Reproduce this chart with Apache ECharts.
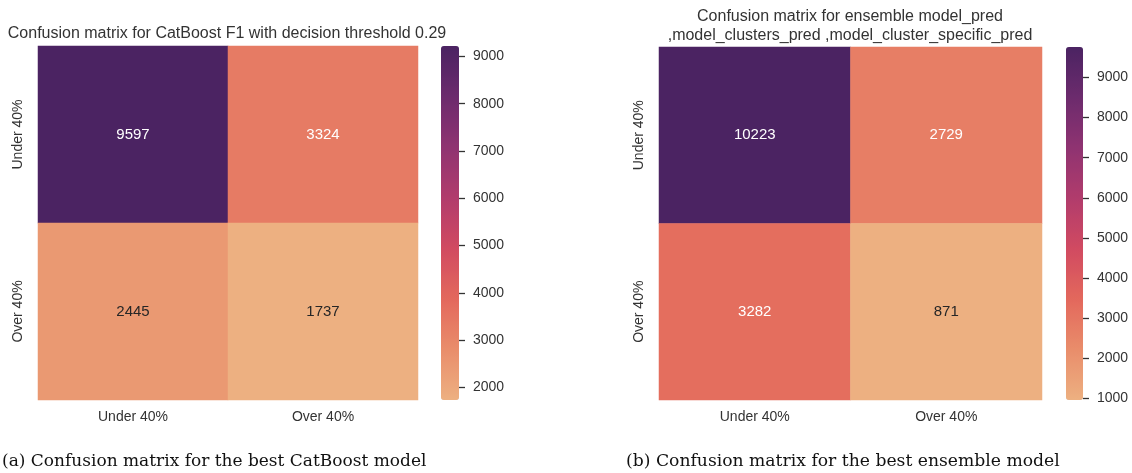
<!DOCTYPE html>
<html>
<head>
<meta charset="utf-8">
<script src="https://cdn.jsdelivr.net/npm/echarts@6/dist/echarts.min.js"></script>
<style>
html,body{margin:0;padding:0;background:#fff;}
#chart{width:1132px;height:473px;}
</style>
</head>
<body>
<div id="chart"></div>
<script>
// ---- data ----
const xLabels = ['Under 40%', 'Over 40%'];
const yLabels = ['Under 40%', 'Over 40%'];
// rows = true class (yLabels), cols = predicted (xLabels)
const catboostMatrix = [[9597, 3324], [2445, 1737]];
const ensembleMatrix = [[10223, 2729], [3282, 871]];
// colour scale ranges as shown on the colour bars
const catboostRange = [1737, 9220];
const ensembleRange = [960, 9760];
const catboostTicks = [2000, 3000, 4000, 5000, 6000, 7000, 8000, 9000];
const ensembleTicks = [1000, 2000, 3000, 4000, 5000, 6000, 7000, 8000, 9000];
const titleA = 'Confusion matrix for CatBoost F1 with decision threshold 0.29';
const titleB = 'Confusion matrix for ensemble model_pred\n,model_clusters_pred ,model_cluster_specific_pred';
const captionA = '(a) Confusion matrix for the best CatBoost model';
const captionB = '(b) Confusion matrix for the best ensemble model';

// seaborn "flare" colormap (low -> high)
const flare = ['#EDB081', '#E98D6B', '#E3685C', '#D14A61', '#B13C6C', '#8F3371', '#6C2B6D', '#4B2362'];

const FONT = 'Liberation Sans, Arial, sans-serif';
const TXT = '#333333';

function buildData(matrix, range) {
  const out = [];
  matrix.forEach((row, yi) => row.forEach((v, xi) => {
    const c = Math.min(Math.max(v, range[0]), range[1]);
    const t = (c - range[0]) / (range[1] - range[0]);
    out.push({ value: [xi, yi, c, v], label: { color: t > 0.15 ? '#ffffff' : '#262626' } });
  }));
  return out;
}

const chart = echarts.init(document.getElementById('chart'), null, { renderer: 'canvas' });

const grids = [
  { left: 38, top: 46, width: 380, height: 354 },
  { left: 659, top: 47, width: 383, height: 353 },
  { left: 441, top: 46, width: 18, height: 354 },
  { left: 1066, top: 47, width: 17, height: 353 }
];

function catX(gi) {
  return {
    type: 'category', gridIndex: gi, data: xLabels,
    axisLine: { show: false }, axisTick: { show: false }, splitLine: { show: false },
    axisLabel: { color: TXT, fontSize: 14, fontFamily: FONT, margin: 10 }
  };
}
function catY(gi) {
  return {
    type: 'category', gridIndex: gi, data: yLabels, inverse: true,
    axisLine: { show: false }, axisTick: { show: false }, splitLine: { show: false },
    axisLabel: { color: TXT, fontSize: 14, fontFamily: FONT, rotate: 90, margin: 13 }
  };
}
function barX(gi) {
  return { type: 'category', gridIndex: gi, data: [''], show: false };
}
function barY(gi, range, ticks) {
  return {
    type: 'value', gridIndex: gi, position: 'right', min: range[0], max: range[1],
    axisLine: { show: false }, splitLine: { show: false },
    axisTick: { show: true, length: 6, inside: false, customValues: ticks, lineStyle: { color: '#333', width: 1.3 } },
    axisLabel: { color: TXT, fontSize: 14, fontFamily: FONT, margin: 14, customValues: ticks,
      formatter: v => String(v) }
  };
}

const option = {
  backgroundColor: '#ffffff',
  animation: false,
  title: [
    { text: titleA, left: 227, top: 26, textAlign: 'center', padding: 0,
      textStyle: { fontFamily: FONT, fontSize: 16, fontWeight: 'normal', color: TXT } },
    { text: titleB, left: 850, top: 7, textAlign: 'center', padding: 0,
      textStyle: { fontFamily: FONT, fontSize: 16, fontWeight: 'normal', color: TXT, lineHeight: 19 } },
    { text: captionA, left: 2, top: 453, padding: 0,
      textStyle: { fontFamily: 'DejaVu Serif, serif', fontSize: 17, fontWeight: 'normal', color: '#111111' } },
    { text: captionB, left: 626, top: 453, padding: 0,
      textStyle: { fontFamily: 'DejaVu Serif, serif', fontSize: 17.2, fontWeight: 'normal', color: '#111111' } }
  ],
  grid: grids,
  xAxis: [catX(0), catX(1), barX(2), barX(3)],
  yAxis: [catY(0), catY(1), barY(2, catboostRange, catboostTicks), barY(3, ensembleRange, ensembleTicks)],
  visualMap: [
    { type: 'continuous', seriesIndex: 0, dimension: 2, min: catboostRange[0], max: catboostRange[1],
      calculable: false, hoverLink: false, text: null, showLabel: false, padding: 0,
      left: grids[2].left, top: grids[2].top, itemWidth: grids[2].width, itemHeight: grids[2].height,
      inRange: { color: flare } },
    { type: 'continuous', seriesIndex: 1, dimension: 2, min: ensembleRange[0], max: ensembleRange[1],
      calculable: false, hoverLink: false, text: null, showLabel: false, padding: 0,
      left: grids[3].left, top: grids[3].top, itemWidth: grids[3].width, itemHeight: grids[3].height,
      inRange: { color: flare } }
  ],
  series: [
    { type: 'heatmap', xAxisIndex: 0, yAxisIndex: 0, data: buildData(catboostMatrix, catboostRange),
      itemStyle: { borderWidth: 0 },
      label: { show: true, fontSize: 15, fontFamily: FONT, formatter: p => String(p.value[3]) } },
    { type: 'heatmap', xAxisIndex: 1, yAxisIndex: 1, data: buildData(ensembleMatrix, ensembleRange),
      itemStyle: { borderWidth: 0 },
      label: { show: true, fontSize: 15, fontFamily: FONT, formatter: p => String(p.value[3]) } }
  ]
};
chart.setOption(option);
</script>
</body>
</html>
